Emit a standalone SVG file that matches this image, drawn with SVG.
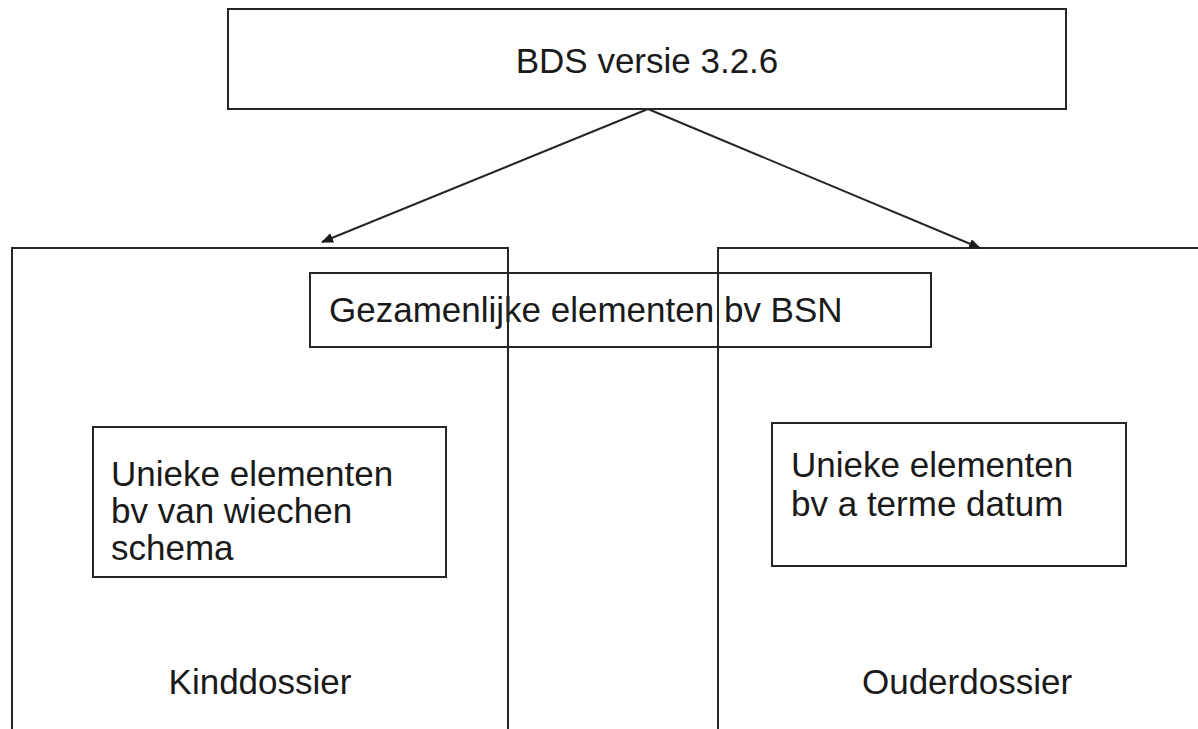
<svg xmlns="http://www.w3.org/2000/svg" width="1198" height="729" viewBox="0 0 1198 729">
<style>
.box{fill:none;stroke:#262626;stroke-width:2}
.lbl{font-family:"Liberation Sans",Arial,sans-serif;font-size:35px;fill:#1a1a1a}
.conn{stroke:#262626;stroke-width:2;fill:none}
</style>
<defs>
<marker id="arr" viewBox="0 0 12 10" refX="11" refY="5" markerWidth="12" markerHeight="10" markerUnits="userSpaceOnUse" orient="auto">
<path d="M0,0 L12,5 L0,10 z" fill="#1a1a1a"/>
</marker>
</defs>
<rect width="1198" height="729" fill="#ffffff"/>
<g id="bds">
<rect class="box" x="228" y="9" width="838" height="100"/>
<text class="lbl" x="647" y="73" text-anchor="middle">BDS versie 3.2.6</text>
</g>
<g id="gezamenlijk">
<rect class="box" x="310" y="273" width="621" height="74"/>
<text class="lbl" x="329" y="322">Gezamenlijke elementen bv BSN</text>
</g>
<g id="kinddossier">
<rect class="box" x="12" y="248" width="496" height="500"/>
<text class="lbl" x="260" y="694" text-anchor="middle">Kinddossier</text>
</g>
<g id="ouderdossier">
<rect class="box" x="718" y="248" width="500" height="500"/>
<text class="lbl" x="967" y="694" text-anchor="middle">Ouderdossier</text>
</g>
<g id="uniek-kind">
<rect class="box" x="93" y="427" width="353" height="150"/>
<text class="lbl" x="111"><tspan x="111" y="486">Unieke elementen</tspan><tspan x="111" y="523">bv van wiechen</tspan><tspan x="111" y="560">schema</tspan></text>
</g>
<g id="uniek-ouder">
<rect class="box" x="772" y="423" width="354" height="143"/>
<text class="lbl" x="791"><tspan x="791" y="477">Unieke elementen</tspan><tspan x="791" y="516">bv a terme datum</tspan></text>
</g>
<g id="connectors">
<line class="conn" x1="648" y1="109" x2="322" y2="242" marker-end="url(#arr)"/>
<line class="conn" x1="648" y1="109" x2="980" y2="248" marker-end="url(#arr)"/>
</g>
</svg>
